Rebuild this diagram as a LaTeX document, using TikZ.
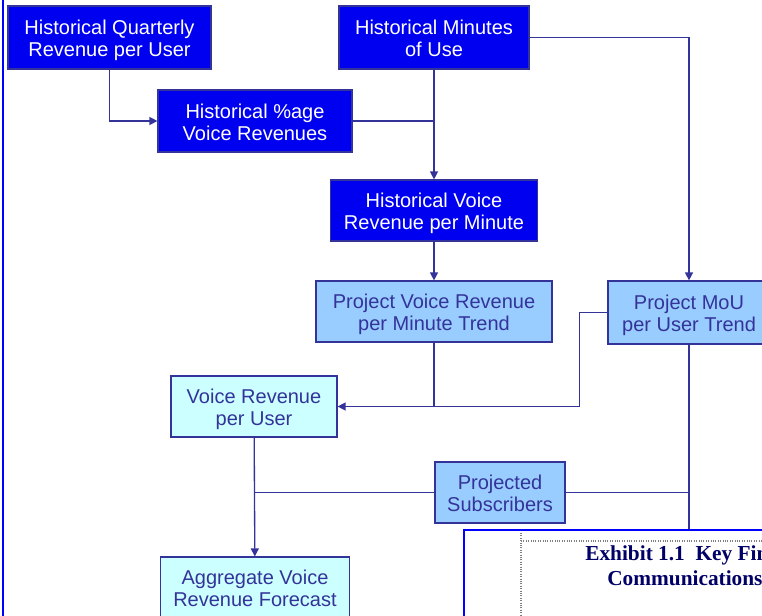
\documentclass[tikz,border=0pt]{standalone}
\usepackage{fontspec}
\setmainfont{Liberation Sans}
\newfontfamily\exhibitfont{Liberation Serif}
\usetikzlibrary{arrows.meta}
\definecolor{histblue}{RGB}{0,0,240}
\definecolor{projblue}{RGB}{153,204,255}
\definecolor{calccyan}{RGB}{204,255,255}
\definecolor{linknavy}{RGB}{51,51,153}
\definecolor{exhnavy}{RGB}{0,0,102}

\begin{document}
\begin{tikzpicture}[x=0.75pt, y=-0.75pt,
  box/.style={
    draw=linknavy,
    line width=0.9pt,
    rectangle,
    inner sep=0pt,
    align=center,
    text height=29.2pt,
    text depth=0pt,
    font=\fontsize{15}{16.5}\selectfont
  },
  histbox/.style={box, fill=histblue, text=white},
  projbox/.style={box, fill=projblue, text=linknavy},
  calcbox/.style={box, fill=calccyan, text=linknavy},
  link/.style={draw=linknavy, line width=1pt},
  arrow/.style={link, -{Triangle[length=6pt,width=6pt]}}]
	\useasboundingbox (0,0) rectangle (762,616);
	\clip (0,0) rectangle (762,616);
	\fill[white] (0,0) rectangle (762,616);
	\draw[blue, line width=1.5pt] (3,0) -- (3,616);
		% Nodes
		\node[histbox, minimum width=203*0.75pt, minimum height=63*0.75pt] (HQ) at (109.5,37.5) {Historical Quarterly\\Revenue per User};
		\node[histbox, minimum width=190*0.75pt, minimum height=63*0.75pt] (HM) at (434,37.5) {Historical Minutes\\of Use};
		\node[histbox, minimum width=194*0.75pt, minimum height=62*0.75pt] (HP) at (255,121) {Historical \%age\\Voice Revenues};
		\node[histbox, minimum width=207*0.75pt, minimum height=61*0.75pt] (HV) at (434,210.5) {Historical Voice\\Revenue per Minute};
		\node[projbox, minimum width=236*0.75pt, minimum height=61*0.75pt] (PV) at (434,311.5) {Project Voice Revenue\\per Minute Trend};
		\node[projbox, minimum width=162*0.75pt, minimum height=63*0.75pt] (PM) at (689,312.5) {Project MoU\\per User Trend};
		\node[calcbox, minimum width=166*0.75pt, minimum height=61*0.75pt] (VR) at (254,406.5) {Voice Revenue\\per User};
		\node[projbox, minimum width=130*0.75pt, minimum height=61*0.75pt] (PS) at (500,492.5) {Projected\\Subscribers};
		\node[calcbox, minimum width=189*0.75pt, minimum height=61*0.75pt] (AV) at (255,587.5) {Aggregate Voice\\Revenue Forecast};
		\node[draw=blue, line width=1.5pt, fill=white, inner sep=0pt, minimum width=310*0.75pt, minimum height=95*0.75pt] (XB) at (619,577.5) {};
		% Arrows
		\draw[arrow] (HQ) |- (HP);
		\draw[link] (HP) -- (HP.east -| HM.south);
		\draw[arrow] (HM) -- (HV);
		\draw[arrow] (HM) -| (PM);
		\draw[arrow] (HV) -- (PV);
		\draw[arrow] (PV) |- (VR);
		\draw[link] (PM.west) -- ++(-28,0) |- (PV.south |- VR.east);
		\draw[link] (PM) -- (PM.south |- XB.north);
		\draw[link] (PS) -- (PS.east -| PM.south);
		\draw[arrow] (VR) -- (AV);
		\draw[link] (PS) -- (PS.west -| VR.south);
		% Exhibit
		\draw[gray, densely dotted, line width=0.8pt] (521,533) -- (521,616) (521,541) -- (762,541);
		\node[anchor=base west, inner sep=0pt, text=exhnavy, font=\exhibitfont\bfseries\fontsize{16}{18}\selectfont] (XT) at (585,560) {Exhibit 1.1~~Key Fin};
		\node[anchor=base west, inner sep=0pt, text=exhnavy, font=\exhibitfont\bfseries\fontsize{16}{18}\selectfont] (XC) at (607,585) {Communications};
	\end{tikzpicture}
\end{document}
